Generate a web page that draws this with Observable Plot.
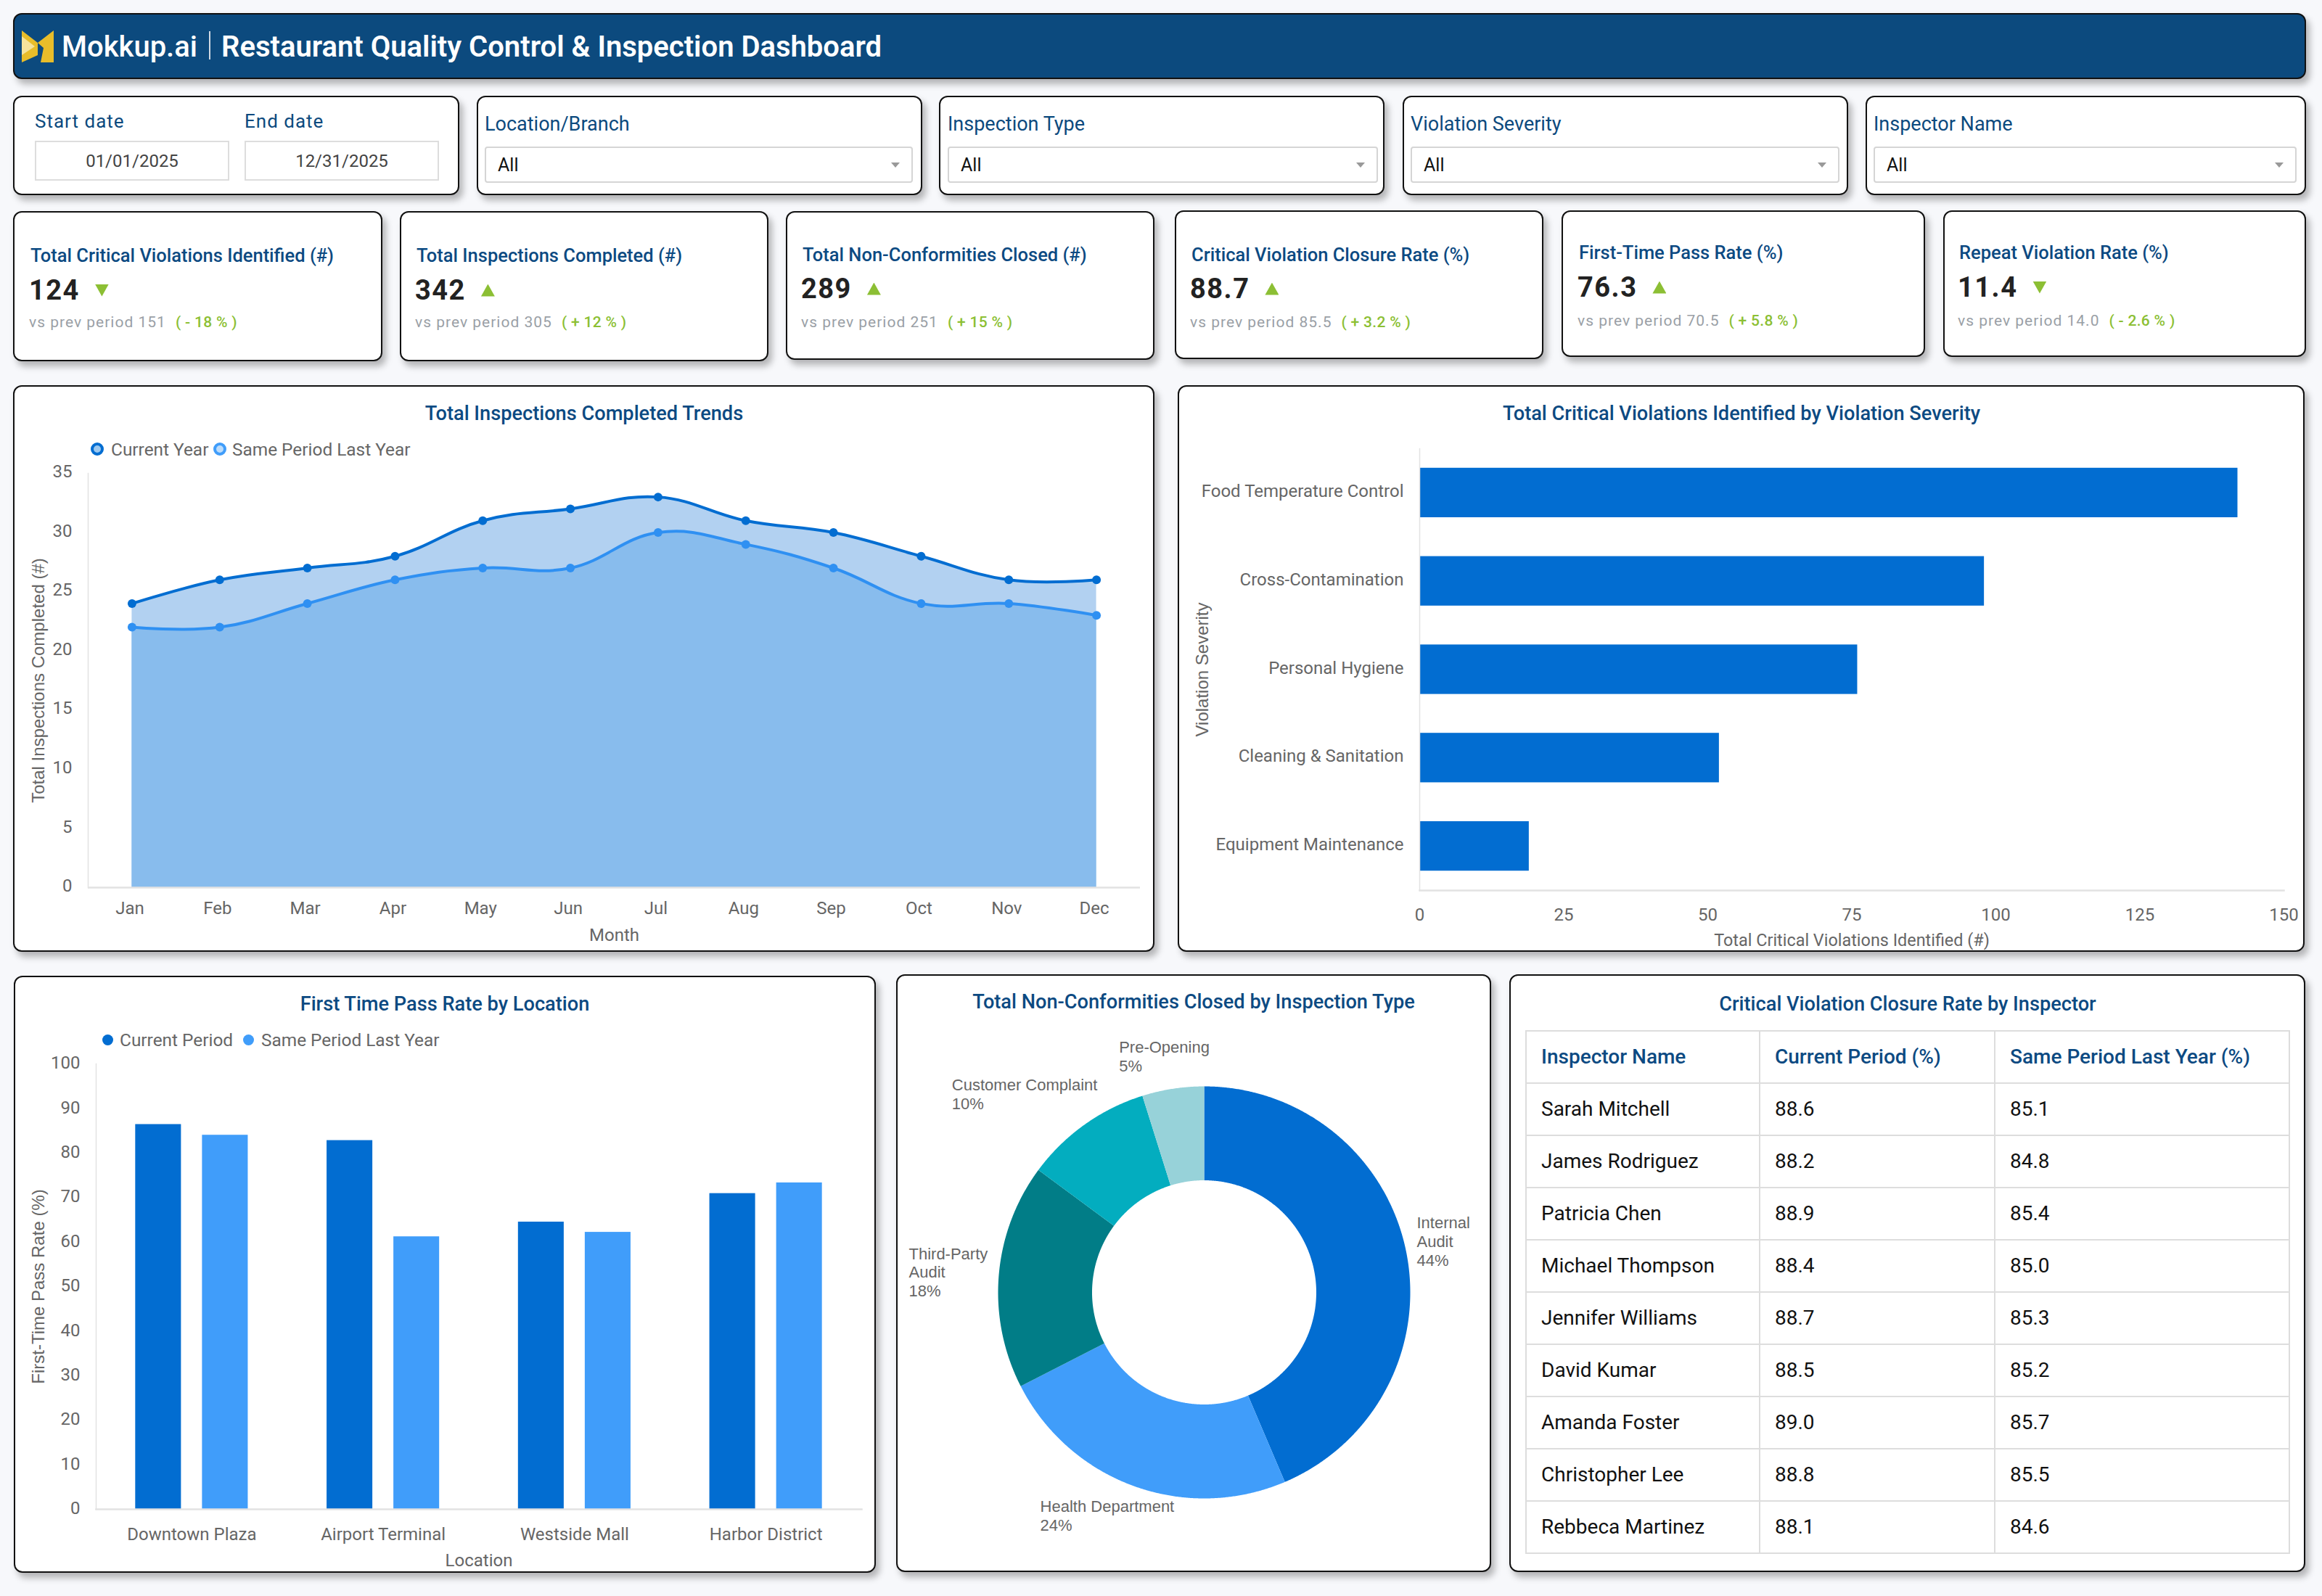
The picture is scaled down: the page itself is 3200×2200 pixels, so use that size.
<!DOCTYPE html>
<html>
<head>
<meta charset="utf-8">
<script src="https://cdn.jsdelivr.net/npm/d3@7"></script>
<script src="https://cdn.jsdelivr.net/npm/@observablehq/plot@0.6"></script>
<style>
html,body{margin:0;padding:0;background:#f7f8fb;}
#page{position:relative;width:3200px;height:2200px;overflow:hidden;background:#f7f8fb;font-family:Roboto,sans-serif;}
#page div,#page span{box-sizing:border-box;}
.abs{position:absolute;white-space:nowrap;}
.card{position:absolute;background:#fff;border:2.5px solid #111;border-radius:12px;box-shadow:5px 7px 10px rgba(0,0,0,.28);}
.ctitle{position:absolute;white-space:nowrap;transform:translate(-50%,-50%);font-size:27.2px;font-weight:500;color:#0c4a82;}
table{position:absolute;border-collapse:collapse;table-layout:fixed;font-size:28px;color:#111;}
td,th{border:2px solid #ddd;padding:0 0 2px 20px;text-align:left;height:72px;box-sizing:border-box;}
th{color:#0c4a82;font-weight:500;}
</style>
</head>
<body>
<div id="page"></div>
<script>
// ---------- data ----------
const months = ["Jan","Feb","Mar","Apr","May","Jun","Jul","Aug","Sep","Oct","Nov","Dec"];
const inspectionsCurrent = [24,26,27,28,31,32,33,31,30,28,26,26];
const inspectionsLast = [22,22,24,26,27,27,30,29,27,24,24,23];
const severities = ["Food Temperature Control","Cross-Contamination","Personal Hygiene","Cleaning & Sanitation","Equipment Maintenance"];
const severityCounts = [142,98,76,52,19];
const locations = ["Downtown Plaza","Airport Terminal","Westside Mall","Harbor District"];
const passCurrent = [86.4,82.8,64.5,70.9];
const passLast = [84.0,61.2,62.2,73.3];
const inspectionTypes = ["Internal\nAudit","Health Department","Third-Party\nAudit","Customer Complaint","Pre-Opening"];
const typeCounts = [126,69,51,29,14];
const inspectors = ["Sarah Mitchell","James Rodriguez","Patricia Chen","Michael Thompson","Jennifer Williams","David Kumar","Amanda Foster","Christopher Lee","Rebbeca Martinez"];
const closureCurrent = ["88.6","88.2","88.9","88.4","88.7","88.5","89.0","88.8","88.1"];
const closureLast = ["85.1","84.8","85.4","85.0","85.3","85.2","85.7","85.5","84.6"];
const tableHeaders = ["Inspector Name","Current Period (%)","Same Period Last Year (%)"];
const kpiTitles = ["Total Critical Violations Identified (#)","Total Inspections Completed (#)","Total Non-Conformities Closed (#)","Critical Violation Closure Rate (%)","First-Time Pass Rate (%)","Repeat Violation Rate (%)"];
const kpiValues = ["124","342","289","88.7","76.3","11.4"];
const kpiPrev = ["151","305","251","85.5","70.5","14.0"];
const kpiDelta = ["( - 18 % )","( + 12 % )","( + 15 % )","( + 3.2 % )","( + 5.8 % )","( - 2.6 % )"];
const kpiUp = [false,true,true,true,true,false];
const filterNames = ["Location/Branch","Inspection Type","Violation Severity","Inspector Name"];

// ---------- layout ----------
const DARK = "#026dd1", LIGHT = "#409dfa", GREY = "#666", AXIS = "#e2e2e2";
const kpiBox = [[18,291,509,207,42,352,400,444],[551,291,508,207,574,352,400,444],[1083,291,508,205,1106,351,398,444],
                [1619,290,508,205,1642,351,398,444],[2152,290,501,202,2176,348,396,442],[2678,290,500,202,2700,348,396,442]];
const filterBox = [[657,614,668,590],[1294,614,1306,593],[1933,614,1944,591],[2571,607,2582,583]];
const page = document.getElementById("page");
function add(cls, css, text, parent){
  const d = document.createElement("div");
  d.className = cls; d.style.cssText = css;
  if(text!=null) d.textContent = text;
  (parent||page).appendChild(d);
  return d;
}
function mount(svg,left,top){
  svg.style.position="absolute"; svg.style.left=left+"px"; svg.style.top=top+"px";
  page.appendChild(svg);
}
const plotStyle = {fontFamily:"Roboto,sans-serif",fontSize:"24px",background:"transparent",color:GREY,overflow:"visible"};
const axisTitleFont = "Liberation Sans";

// header
add("card","left:18px;top:18px;width:3160px;height:91px;background:#0c4a7e;");
page.insertAdjacentHTML("beforeend",`<svg style="position:absolute;left:30px;top:42px" width="44" height="44" viewBox="0 0 44 44">
<polygon points="0,0 22,17 22,34 0,44" fill="#e8bd2a"/><polygon points="0,8 18,22 0,34" fill="#f6e39c"/>
<polygon points="44,0 44,44 26,44 30,24 22,17" fill="#e8bd2a"/></svg>`);
add("abs","left:85px;top:64px;transform:translateY(-50%);font-size:40px;font-weight:500;color:#fff;","Mokkup.ai");
add("abs","left:288px;top:43px;width:2px;height:39px;background:#cfd8e3;");
add("abs","left:305px;top:64px;transform:translateY(-50%);font-size:40px;font-weight:600;color:#fff;","Restaurant Quality Control & Inspection Dashboard");

// date filter card
add("card","left:18px;top:132px;width:615px;height:137px;");
[["Start date",48,"01/01/2025"],["End date",337,"12/31/2025"]].forEach(([lab,x,val])=>{
  add("abs",`left:${x}px;top:167px;transform:translateY(-50%);font-size:26px;letter-spacing:1px;color:#0c4a7e;`,lab);
  add("abs",`left:${x}px;top:194px;width:268px;height:55px;border:2px solid #ddd;background:#fff;display:flex;align-items:center;justify-content:center;font-size:24px;color:#444;`,val);
});
// select filters
filterNames.forEach((name,i)=>{
  const [cx,cw,x,w]=filterBox[i];
  add("card",`left:${cx}px;top:132px;width:${cw}px;height:137px;`);
  add("abs",`left:${x}px;top:171px;transform:translateY(-50%);font-size:27px;color:#0c4a7e;`,name);
  add("abs",`left:${x}px;top:202px;width:${w}px;height:50px;border:2px solid #d5d5d5;border-radius:4px;background:#fff;`);
  add("abs",`left:${x+18}px;top:227px;transform:translateY(-50%);font-size:25px;color:#111;`,"All");
  add("abs",`left:${x+w-30}px;top:224px;width:12px;height:7px;background:#999;clip-path:polygon(0 0,100% 0,50% 100%);`);
});
// KPI cards
kpiTitles.forEach((title,i)=>{
  const [cx,cy,cw,ch,tx,ty,vy,sy]=kpiBox[i];
  add("card",`left:${cx}px;top:${cy}px;width:${cw}px;height:${ch}px;`);
  add("abs",`left:${tx}px;top:${ty}px;transform:translateY(-50%);font-size:25.5px;font-weight:500;color:#0c4a82;`,title);
  const v = add("abs",`left:${tx-2}px;top:${vy}px;transform:translateY(-50%);font-size:38px;font-weight:700;color:#222;letter-spacing:1.5px;display:flex;align-items:center;`,kpiValues[i]);
  const tri = document.createElement("span");
  tri.style.cssText=`display:inline-block;width:19px;height:17px;margin-left:21px;background:#8cbf34;clip-path:${kpiUp[i]?"polygon(50% 0,100% 100%,0 100%)":"polygon(0 0,100% 0,50% 100%)"};`;
  v.appendChild(tri);
  const s = add("abs",`left:${tx-2}px;top:${sy}px;transform:translateY(-50%);font-size:21px;color:#9aa0a6;letter-spacing:1px;`,`vs prev period ${kpiPrev[i]}`);
  const dl = document.createElement("span");
  dl.style.cssText="margin-left:13px;color:#8cbf34;font-weight:500;letter-spacing:.3px;";
  dl.textContent=kpiDelta[i];
  s.appendChild(dl);
});

// ---------- chart 1: trends ----------
add("card","left:18px;top:531px;width:1573px;height:781px;");
add("ctitle","left:805px;top:570px;","Total Inspections Completed Trends");
[[134,153,"Current Year",DARK,"#9cc8ef"],[303,320,"Same Period Last Year",LIGHT,"#bcdcfb"]].forEach(([mx,tx,t,c,f])=>{
  add("abs",`left:${mx-9}px;top:610px;width:18px;height:18px;border-radius:50%;border:4.5px solid ${c};background:${f};`);
  add("abs",`left:${tx}px;top:619px;transform:translateY(-50%);font-size:24.4px;color:${GREY};`,t);
});
const trendCurrent = months.map((m,i)=>({m,v:inspectionsCurrent[i]}));
const trendLast = months.map((m,i)=>({m,v:inspectionsLast[i]}));
const curveOpts = {curve:"cardinal",tension:-0.2};
mount(Plot.plot({
  width:1573,height:781,marginLeft:103,marginRight:20,marginTop:121,marginBottom:89,style:plotStyle,
  x:{type:"point",domain:months,padding:.5,round:false},
  y:{domain:[0,35]},
  marks:[
    Plot.areaY(trendCurrent,{x:"m",y:"v",fill:"#b2d1f1",...curveOpts}),
    Plot.areaY(trendLast,{x:"m",y:"v",fill:"#88bced",...curveOpts}),
    Plot.frame({anchor:"left",stroke:AXIS,strokeWidth:1.5}),
    Plot.ruleY([0],{stroke:AXIS,strokeWidth:2.5}),
    Plot.line(trendCurrent,{x:"m",y:"v",stroke:DARK,strokeWidth:4,...curveOpts}),
    Plot.line(trendLast,{x:"m",y:"v",stroke:"#2f90f2",strokeWidth:4,...curveOpts}),
    Plot.dot(trendCurrent,{x:"m",y:"v",r:6,fill:DARK}),
    Plot.dot(trendLast,{x:"m",y:"v",r:6,fill:"#2f90f2"}),
    Plot.axisX({tickSize:0,tickPadding:19,label:null,dx:-3}),
    Plot.axisY({ticks:d3.range(0,36,5),tickSize:0,tickPadding:22,label:null,dy:-2}),
    Plot.text(["Month"],{text:d=>d,frameAnchor:"bottom",lineAnchor:"middle",dy:66}),
    Plot.text(["Total Inspections Completed (#)"],{text:d=>d,frameAnchor:"left",textAnchor:"middle",rotate:-90,lineAnchor:"middle",dx:-68,fontFamily:axisTitleFont,fontSize:24})
  ]
}),18,531);

// ---------- chart 2: severity ----------
add("card","left:1623px;top:531px;width:1553px;height:781px;");
add("ctitle","left:2400px;top:570px;","Total Critical Violations Identified by Violation Severity");
mount(Plot.plot({
  width:1553,height:781,marginLeft:333,marginRight:29,marginTop:87,marginBottom:85,style:plotStyle,
  x:{domain:[0,150]},
  y:{domain:severities,paddingInner:.44,paddingOuter:.22,round:false},
  marks:[
    Plot.barX(severities,{y:d=>d,x:(d,i)=>severityCounts[i],fill:DARK}),
    Plot.frame({anchor:"left",stroke:AXIS,strokeWidth:1.5}),
    Plot.frame({anchor:"bottom",stroke:AXIS,strokeWidth:2.5}),
    Plot.axisX({ticks:d3.range(0,151,25),tickSize:0,tickPadding:24,label:null}),
    Plot.axisY({tickSize:0,tickPadding:22,label:null,dy:-2}),
    Plot.text(["Total Critical Violations Identified (#)"],{text:d=>d,frameAnchor:"bottom",lineAnchor:"middle",dy:69,fontSize:23.4}),
    Plot.text(["Violation Severity"],{text:d=>d,frameAnchor:"left",textAnchor:"middle",rotate:-90,lineAnchor:"middle",dx:-299,fontFamily:axisTitleFont,fontSize:24})
  ]
}),1623,531);

// ---------- chart 3: pass rate ----------
add("card","left:19px;top:1345px;width:1188px;height:823px;");
add("ctitle","left:613px;top:1384px;","First Time Pass Rate by Location");
const passSeries = ["Current Period","Same Period Last Year"];
[[148,165,0],[342,360,1]].forEach(([mx,tx,i])=>{
  add("abs",`left:${mx-7.5}px;top:1426px;width:15px;height:15px;border-radius:50%;background:${[DARK,LIGHT][i]};`);
  add("abs",`left:${tx}px;top:1433px;transform:translateY(-50%);font-size:24.4px;color:${GREY};`,passSeries[i]);
});
const passRows = locations.flatMap((l,i)=>[
  {l,s:passSeries[0],v:passCurrent[i]},
  {l,s:passSeries[1],v:passLast[i]}
]);
mount(Plot.plot({
  width:1188,height:823,marginLeft:113,marginRight:20,marginTop:121,marginBottom:88,style:plotStyle,
  fx:{domain:locations,padding:0,axis:null,round:false},
  x:{domain:passSeries,paddingInner:.315,paddingOuter:.59,axis:null,round:false},
  y:{domain:[0,100]},
  color:{domain:passSeries,range:[DARK,LIGHT]},
  marks:[
    Plot.barY(passRows,{fx:"l",x:"s",y:"v",fill:"s"}),
    Plot.frame({anchor:"left",stroke:AXIS,strokeWidth:1.5,facet:"super"}),
    Plot.frame({anchor:"bottom",stroke:AXIS,strokeWidth:2.5,facet:"super"}),
    Plot.axisFx({anchor:"bottom",tickSize:0,tickPadding:25,label:null}),
    Plot.axisY({ticks:d3.range(0,101,10),tickSize:0,tickPadding:22,label:null,dy:-1}),
    Plot.text(["Location"],{text:d=>d,frameAnchor:"bottom",lineAnchor:"middle",dy:71,facet:"super"}),
    Plot.text(["First-Time Pass Rate (%)"],{text:d=>d,frameAnchor:"left",textAnchor:"middle",rotate:-90,lineAnchor:"middle",dx:-79,fontFamily:axisTitleFont,fontSize:24,facet:"super"})
  ]
}),19,1345);

// ---------- chart 4: donut ----------
add("card","left:1235px;top:1343px;width:820px;height:824px;");
add("ctitle","left:1645px;top:1381px;","Total Non-Conformities Closed by Inspection Type");
const cx=424, cy=438, R=284, r=154.5, labelR=299;
const labelNudge = [[0,-11],[-124,26],[-109,-4],[-174,-30],[-72,-30]];
const total = d3.sum(typeCounts);
const arcs = d3.pie().sort(null)(typeCounts);
const polar = (rad,a)=>[cx+rad*Math.sin(a),cy-rad*Math.cos(a)];
const slices = arcs.map((a,i)=>{
  const n = Math.ceil((a.endAngle-a.startAngle)/0.005);
  const outer = d3.range(n+1).map(k=>polar(R,a.startAngle+(a.endAngle-a.startAngle)*k/n));
  const inner = d3.range(n,-1,-1).map(k=>polar(r,a.startAngle+(a.endAngle-a.startAngle)*k/n));
  const ring = [...outer,...inner,outer[0]];
  const mid=(a.startAngle+a.endAngle)/2, p=polar(labelR,mid);
  return {name:inspectionTypes[i],geometry:{type:"Polygon",coordinates:[ring]},
    lx:p[0]+labelNudge[i][0],ly:p[1]+labelNudge[i][1],
    label:`${inspectionTypes[i]}\n${Math.round(typeCounts[i]/total*100)}%`};
});
mount(Plot.plot({
  width:820,height:824,margin:0,style:plotStyle,
  projection:"identity",
  color:{domain:inspectionTypes,range:[DARK,LIGHT,"#017d87","#03adbf","#97d2d9"]},
  marks:[
    Plot.geo(slices,{geometry:d=>d.geometry,fill:d=>d.name}),
    Plot.text(slices,{x:"lx",y:"ly",text:"label",textAnchor:"start",lineAnchor:"middle",lineHeight:1.17,fontFamily:axisTitleFont,fontSize:22,fill:GREY})
  ]
}),1235,1343);

// ---------- table ----------
add("card","left:2080px;top:1343px;width:1097px;height:824px;");
add("ctitle","left:2629px;top:1384px;","Critical Violation Closure Rate by Inspector");
const table = document.createElement("table");
table.style.cssText="left:2102px;top:1420px;width:1052px;";
const colW=[322,324,406];
const colgroup=document.createElement("colgroup");
colW.forEach(w=>{const c=document.createElement("col");c.style.width=w+"px";colgroup.appendChild(c);});
table.appendChild(colgroup);
const hr=table.insertRow();
tableHeaders.forEach(h=>{const th=document.createElement("th");th.textContent=h;hr.appendChild(th);});
inspectors.forEach((n,i)=>{
  const tr=table.insertRow();
  [n,closureCurrent[i],closureLast[i]].forEach(t=>{tr.insertCell().textContent=t;});
});
page.appendChild(table);
</script>
</body>
</html>
